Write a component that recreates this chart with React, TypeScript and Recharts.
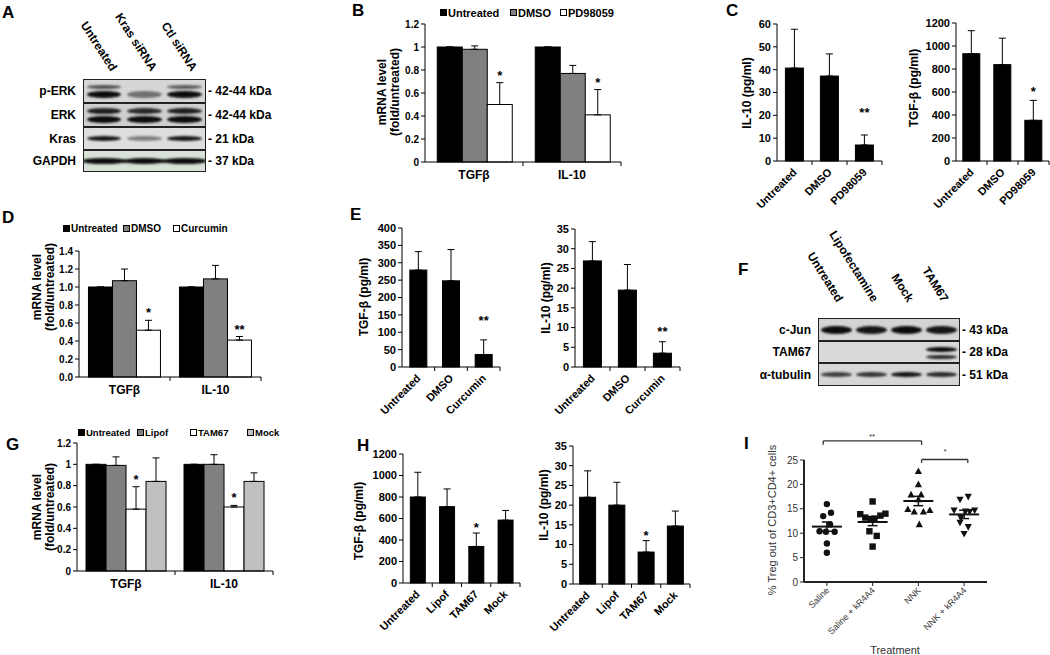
import React from "react";
import { BarChart, Bar, XAxis, YAxis, ErrorBar, ScatterChart, Scatter, ReferenceLine } from "recharts";

const FONT = '"Liberation Sans", Arial, Helvetica, sans-serif';

// ---------- data ----------
// B: mRNA, PD98059
const mrnaCats = ["TGFβ", "IL-10"];
const pdUntreated = [1, 1];
const pdDmso = [0.98, 0.77];
const pdDmsoErr = [0.03, 0.07];
const pdDrug = [0.5, 0.41];
const pdDrugErr = [0.19, 0.22];
const pdDrugSig = ["*", "*"];

// C: ELISA, PD98059
const pdCats = ["Untreated", "DMSO", "PD98059"];
const cIl10 = [40.7, 37.2, 7.0];
const cIl10Err = [17, 9.7, 4.4];
const cIl10Sig = ["", "", "**"];
const cTgf = [933, 838, 354];
const cTgfErr = [200, 230, 173];
const cTgfSig = ["", "", "*"];

// D: mRNA, curcumin
const curUntreated = [1, 1];
const curDmso = [1.07, 1.09];
const curDmsoErr = [0.13, 0.15];
const curDrug = [0.52, 0.41];
const curDrugErr = [0.11, 0.04];
const curDrugSig = ["*", "**"];

// E: ELISA, curcumin
const curCats = ["Untreated", "DMSO", "Curcumin"];
const eTgf = [279, 248, 36];
const eTgfErr = [53, 90, 42];
const eIl10 = [26.9, 19.5, 3.5];
const eIl10Err = [4.9, 6.5, 2.9];
const eSig = ["", "", "**"];

// G: mRNA, TAM67
const tamUntreated = [1, 1];
const tamLipof = [0.99, 1.0];
const tamLipofErr = [0.08, 0.09];
const tamDrug = [0.58, 0.6];
const tamDrugErr = [0.21, 0.015];
const tamDrugSig = ["*", "*"];
const tamMock = [0.84, 0.84];
const tamMockErr = [0.22, 0.08];

// H: ELISA, TAM67
const tamCats = ["Untreated", "Lipof", "TAM67", "Mock"];
const hTgf = [800, 710, 340, 585];
const hTgfErr = [230, 165, 125, 90];
const hIl10 = [22, 20, 8.1, 14.7];
const hIl10Err = [6.7, 5.8, 2.9, 3.8];
const hSig = ["", "", "*", ""];

// I: Treg dot plot
const treatGroups = ["Saline", "Saline + kR4A4", "NNK", "NNK + kR4A4"];
const salinePts = [15.96, 14.2, 13.5, 11.8, 10.4, 10.3, 10.3, 7.9, 6.0];
const salineJit = [0, 0.09, -0.08, 0.07, -0.16, -0.02, 0.17, 0, 0];
const salineKPts = [16.5, 13.9, 14.0, 13.2, 13.0, 12.9, 13.6, 10.4, 9.45, 7.26];
const salineKJit = [0, -0.27, 0.28, -0.16, 0.04, -0.04, 0.17, -0.07, 0.09, 0];
const nnkPts = [22.7, 20.0, 17.9, 17.9, 16.9, 14.9, 14.4, 14.4, 14.7, 11.8];
const nnkJit = [0, 0, -0.16, 0.06, 0, -0.23, -0.09, 0.11, 0.25, 0.02];
const nnkKPts = [17.5, 16.9, 14.7, 14.5, 14.7, 14.4, 13.2, 12.2, 11.3, 9.9];
const nnkKJit = [0.09, -0.09, -0.22, 0.03, 0.23, 0.12, -0.07, -0.09, 0.09, 0];
const groupMeans = [11.35, 12.3, 16.6, 13.85];
const groupSem = [0.95, 0.75, 0.96, 0.85];

const ticks12 = [0, 0.2, 0.4, 0.6, 0.8, 1, 1.2];
const ticks14 = [0, 0.2, 0.4, 0.6, 0.8, 1.0, 1.2, 1.4];
const ticks60 = [0, 10, 20, 30, 40, 50, 60];
const ticks1200 = [0, 200, 400, 600, 800, 1000, 1200];
const ticks400 = [0, 50, 100, 150, 200, 250, 300, 350, 400];
const ticks35 = [0, 5, 10, 15, 20, 25, 30, 35];
const ticks25 = [0, 5, 10, 15, 20, 25];

// western blots
type Band = { pos: number; h: number; lanes: number[]; wide?: number };
type BlotRow = { label: string; kda: string; h: number; bg: string; bands: Band[] };

const aLanes = ["Untreated", "Kras siRNA", "Ctl siRNA"];
const aRows: BlotRow[] = [
  { label: "p-ERK", kda: "- 42-44 kDa", h: 22, bg: "#d6d6d6", bands: [{ pos: 0.3, h: 4, lanes: [0.65, 0, 0.6] }, { pos: 0.66, h: 7, lanes: [1, 0.5, 1] }] },
  { label: "ERK", kda: "- 42-44 kDa", h: 22, bg: "#cfcfcf", bands: [{ pos: 0.32, h: 6, lanes: [0.9, 0.85, 0.9] }, { pos: 0.7, h: 7, lanes: [1, 1, 1] }] },
  { label: "Kras", kda: "- 21 kDa", h: 21, bg: "#dedede", bands: [{ pos: 0.5, h: 5, lanes: [0.95, 0.45, 0.95] }] },
  { label: "GAPDH", kda: "- 37 kDa", h: 20, bg: "#d8e2d8", bands: [{ pos: 0.5, h: 6, lanes: [1, 1, 1], wide: 1.1 }] },
];

const fLanes = ["Untreated", "Lipofectamine", "Mock", "TAM67"];
const fRows: BlotRow[] = [
  { label: "c-Jun", kda: "- 43 kDa", h: 21, bg: "#d4d4d4", bands: [{ pos: 0.5, h: 8, lanes: [1, 0.95, 1, 0.95] }] },
  { label: "TAM67", kda: "- 28 kDa", h: 20, bg: "#d9d9d9", bands: [{ pos: 0.38, h: 5, lanes: [0, 0, 0, 1] }, { pos: 0.76, h: 4, lanes: [0, 0, 0, 0.85] }] },
  { label: "α-tubulin", kda: "- 51 kDa", h: 21, bg: "#d6d6d6", bands: [{ pos: 0.5, h: 5, lanes: [0.75, 0.8, 0.95, 0.85] }] },
];

// ---------- helpers ----------
function T({ x, y, children, size = 11, weight = 700, anchor = "start", color = "#000" }: any) {
  const tx = anchor === "end" ? "-100%" : anchor === "middle" ? "-50%" : "0";
  return (
    <div style={{ position: "absolute", left: x, top: y, transform: `translate(${tx}, -50%)`, fontSize: size, fontWeight: weight, color, whiteSpace: "nowrap", lineHeight: 1 }}>
      {children}
    </div>
  );
}

function VT({ x, y, children, size = 12, weight = 700, color = "#000" }: any) {
  return (
    <div style={{ position: "absolute", left: x, top: y, transform: "translate(-50%, -50%) rotate(-90deg)", fontSize: size, fontWeight: weight, color, whiteSpace: "nowrap", lineHeight: 1.1, textAlign: "center" }}>
      {children}
    </div>
  );
}

function LaneLabel({ x, y, angle, children }: any) {
  return (
    <div style={{ position: "absolute", left: x, top: y, width: 0, height: 0 }}>
      <span style={{ position: "absolute", right: 0, bottom: 0, transformOrigin: "right bottom", transform: `rotate(${angle}deg)`, fontSize: 12, fontWeight: 700, whiteSpace: "nowrap", lineHeight: 1 }}>
        {children}
      </span>
    </div>
  );
}

function Blot({ x, y, w, lanes, rows, labelY, labelDx, angle }: { x: number; y: number; w: number; lanes: string[]; rows: BlotRow[]; labelY: number; labelDx: number; angle: number }) {
  const lw = w / lanes.length;
  const centers: number[] = [];
  let acc = y + 1;
  rows.forEach((r) => {
    centers.push(acc + r.h / 2);
    acc += r.h + 2;
  });
  return (
    <>
      {lanes.map((l, i) => (
        <LaneLabel key={l} x={x + lw * (i + 0.5) + labelDx} y={labelY} angle={angle}>
          {l}
        </LaneLabel>
      ))}
      <div style={{ position: "absolute", left: x, top: y, width: w, border: "1px solid #222", background: "#222" }}>
        {rows.map((r, ri) => (
          <div key={r.label} style={{ position: "relative", height: r.h, background: r.bg, marginTop: ri ? 2 : 0, overflow: "hidden" }}>
            {r.bands.map((b, bi) =>
              b.lanes.map((d, li) => {
                if (d <= 0) return null;
                const bw = lw * (b.wide ?? 0.86);
                return (
                  <div
                    key={`${bi}-${li}`}
                    style={{ position: "absolute", left: lw * li + (lw - bw) / 2, width: bw, top: r.h * b.pos - b.h / 2, height: b.h, background: `rgba(12,12,12,${d})`, borderRadius: "50%", filter: "blur(0.8px)" }}
                  />
                );
              })
            )}
          </div>
        ))}
      </div>
      {rows.map((r, i) => (
        <React.Fragment key={r.label}>
          <T x={x - 7} y={centers[i]} anchor="end" size={12}>{r.label}</T>
          <T x={x + w + 4} y={centers[i]} size={12}>{r.kda}</T>
        </React.Fragment>
      ))}
    </>
  );
}

// category tick: label (flat or slanted) plus Excel-style separator tick to the right of the band
function CatTick(props: any) {
  const { x, y, payload, band, slant, names, fsz = 12, fwt = 700, color = "#000", dx = 3, dy = 4 } = props;
  const label = names ? names[Math.round(payload.value) - 1] : payload.value;
  const axisY = y - 8;
  const ax = x + dx;
  const ay = y + dy;
  return (
    <g>
      {band ? <line x1={x + band / 2} x2={x + band / 2} y1={axisY} y2={axisY + 4} stroke="#000" /> : null}
      {slant ? (
        <text x={ax} y={ay} transform={`rotate(-45 ${ax} ${ay})`} textAnchor="end" fontSize={fsz} fontWeight={fwt} fill={color}>
          {label}
        </text>
      ) : (
        <text x={x} y={y} dy="0.71em" textAnchor="middle" fontSize={fsz} fontWeight={fwt} fill={color}>
          {label}
        </text>
      )}
    </g>
  );
}

const barShape = (key: string, starGap: number) => (p: any) => {
  const { x, y, width, height, fill, payload } = p;
  const v = payload[key];
  const e = payload[key + "Err"][1];
  const sig = payload[key + "Sig"];
  const top = v > 0 ? y - (e * height) / v : y;
  return (
    <g>
      <rect x={x} y={y} width={width} height={height} fill={fill} stroke="#000" strokeWidth={1} />
      {sig ? (
        <text x={x + width / 2} y={top - starGap + 7} textAnchor="middle" fontSize={13} fontWeight={700} fill="#000">
          {sig}
        </text>
      ) : null}
    </g>
  );
};

type Series = { key: string; fill: string; values: number[]; errs?: number[]; sig?: string[] };

function BarPanel(props: {
  x0: number; y0: number; x1: number; y1: number;
  cats: string[]; series: Series[]; domain: [number, number]; ticks: number[];
  fmt?: (v: number) => string; gap: string; slant?: boolean; tickFs?: number; starGap?: number;
}) {
  const { x0, y0, x1, y1, cats, series, domain, ticks, fmt, gap, slant, tickFs = 10, starGap = 10 } = props;
  const YW = 40, MT = 30, MR = 4, XH = slant ? 70 : 26;
  const band = (x1 - x0) / cats.length;
  const data = cats.map((c, i) => {
    const row: any = { cat: c };
    series.forEach((s) => {
      row[s.key] = s.values[i];
      row[s.key + "Err"] = [0, s.errs ? s.errs[i] : 0];
      row[s.key + "Sig"] = s.sig ? s.sig[i] : "";
    });
    return row;
  });
  return (
    <div style={{ position: "absolute", left: x0 - YW, top: y0 - MT }}>
      <BarChart width={x1 - x0 + YW + MR} height={y1 - y0 + MT + XH} data={data} margin={{ top: MT, right: MR, left: 0, bottom: 0 }} barCategoryGap={gap} barGap={0}>
        <XAxis
          dataKey="cat"
          axisLine={{ stroke: "#000" }}
          tickLine={false}
          tickSize={6}
          tickMargin={2}
          interval={0}
          height={XH}
          tick={<CatTick band={band} slant={slant} fsz={slant ? 11 : 12} />}
        />
        <YAxis
          type="number"
          domain={domain}
          ticks={ticks}
          interval={0}
          tickFormatter={fmt}
          width={YW}
          axisLine={{ stroke: "#000" }}
          tickLine={{ stroke: "#000" }}
          tickSize={4}
          tick={{ fontSize: tickFs, fontWeight: 700, fill: "#000" }}
        />
        {series.map((s) => (
          <Bar key={s.key} dataKey={s.key} fill={s.fill} isAnimationActive={false} shape={barShape(s.key, starGap)}>
            <ErrorBar dataKey={s.key + "Err"} width={3.5} stroke="#000" strokeWidth={1} direction="y" />
          </Bar>
        ))}
      </BarChart>
    </div>
  );
}

function Key({ y, size, items }: { y: number; size: number; items: { x: number; label: string; fill: string }[] }) {
  return (
    <>
      {items.map((it) => (
        <React.Fragment key={it.label}>
          <div style={{ position: "absolute", left: it.x, top: y - 4, width: 7, height: 7, background: it.fill, border: "1px solid #000", boxSizing: "border-box" }} />
          <T x={it.x + 8} y={y} size={size}>{it.label}</T>
        </React.Fragment>
      ))}
    </>
  );
}

const markers: Record<string, (p: any) => any> = {
  circle: ({ cx, cy }: any) => <circle cx={cx} cy={cy} r={3.2} fill="#111" />,
  square: ({ cx, cy }: any) => <rect x={cx - 3.2} y={cy - 3.2} width={6.4} height={6.4} fill="#111" />,
  up: ({ cx, cy }: any) => <path d={`M${cx},${cy - 3.8}L${cx + 3.6},${cy + 2.8}L${cx - 3.6},${cy + 2.8}Z`} fill="#111" />,
  down: ({ cx, cy }: any) => <path d={`M${cx},${cy + 3.8}L${cx + 3.6},${cy - 2.8}L${cx - 3.6},${cy - 2.8}Z`} fill="#111" />,
};

const MeanLine = ({ cx, cy }: any) => <line x1={cx - 15} x2={cx + 15} y1={cy} y2={cy} stroke="#111" strokeWidth={2} />;

function TregPanel() {
  const x0 = 804, y0 = 460, x1 = 987, y1 = 582;
  const YW = 30, MT = 30, MR = 6, XH = 60;
  const groups = [
    { pts: salinePts, jit: salineJit, kind: "circle" },
    { pts: salineKPts, jit: salineKJit, kind: "square" },
    { pts: nnkPts, jit: nnkJit, kind: "up" },
    { pts: nnkKPts, jit: nnkKJit, kind: "down" },
  ];
  const means = groupMeans.map((m, i) => ({ x: i + 1, y: m, sem: groupSem[i] }));
  const br = { stroke: "#333", strokeWidth: 1.3, ifOverflow: "visible" as const };
  return (
    <div style={{ position: "absolute", left: x0 - YW, top: y0 - MT }}>
      <ScatterChart width={x1 - x0 + YW + MR} height={y1 - y0 + MT + XH} margin={{ top: MT, right: MR, left: 0, bottom: 0 }}>
        <XAxis
          type="number"
          dataKey="x"
          domain={[0.5, 4.5]}
          ticks={[1, 2, 3, 4]}
          interval={0}
          height={XH}
          axisLine={{ stroke: "#222", strokeWidth: 2 }}
          tickLine={{ stroke: "#222" }}
          tickSize={4}
          tick={<CatTick names={treatGroups} slant fsz={9} fwt={400} color="#333" dy={3} />}
        />
        <YAxis
          type="number"
          dataKey="y"
          domain={[0, 25]}
          ticks={ticks25}
          interval={0}
          allowDataOverflow
          width={YW}
          axisLine={{ stroke: "#222", strokeWidth: 2 }}
          tickLine={{ stroke: "#222" }}
          tickSize={4}
          tick={{ fontSize: 10, fill: "#333" }}
        />
        {groups.map((g, gi) => (
          <Scatter
            key={treatGroups[gi]}
            data={g.pts.map((v, j) => ({ x: gi + 1 + g.jit[j], y: v }))}
            shape={markers[g.kind]}
            isAnimationActive={false}
          />
        ))}
        <Scatter data={means} shape={MeanLine} isAnimationActive={false}>
          <ErrorBar dataKey="sem" direction="y" width={5} stroke="#111" strokeWidth={1.5} />
        </Scatter>
        <ReferenceLine segment={[{ x: 0.92, y: 28.9 }, { x: 3.07, y: 28.9 }]} {...br} />
        <ReferenceLine segment={[{ x: 0.92, y: 28.9 }, { x: 0.92, y: 28.1 }]} {...br} />
        <ReferenceLine segment={[{ x: 3.07, y: 28.9 }, { x: 3.07, y: 28.1 }]} {...br} />
        <ReferenceLine segment={[{ x: 3.07, y: 25.1 }, { x: 4.08, y: 25.1 }]} {...br} />
        <ReferenceLine segment={[{ x: 3.07, y: 25.1 }, { x: 3.07, y: 24.4 }]} {...br} />
        <ReferenceLine segment={[{ x: 4.08, y: 25.1 }, { x: 4.08, y: 24.4 }]} {...br} />
      </ScatterChart>
    </div>
  );
}

const fmtPlain = (v: number) => String(v);
const fmtOne = (v: number) => v.toFixed(1);

export default function App() {
  return (
    <div style={{ position: "absolute", left: 0, top: 0, width: 1050, height: 655, background: "#fff", overflow: "hidden", fontFamily: FONT, color: "#000" }}>
      {/* panel letters */}
      <T x={2} y={12} size={17}>A</T>
      <T x={352} y={10} size={17}>B</T>
      <T x={726} y={10} size={17}>C</T>
      <T x={2} y={217} size={17}>D</T>
      <T x={350} y={214} size={17}>E</T>
      <T x={738} y={269} size={17}>F</T>
      <T x={6} y={444} size={17}>G</T>
      <T x={357} y={445} size={17}>H</T>
      <T x={744} y={443} size={17}>I</T>

      {/* A */}
      <Blot x={83} y={79} w={121} lanes={aLanes} rows={aRows} labelY={73} labelDx={6} angle={57} />

      {/* B */}
      <Key y={13} size={11} items={[{ x: 440, label: "Untreated", fill: "#000" }, { x: 510, label: "DMSO", fill: "#808080" }, { x: 560, label: "PD98059", fill: "#fff" }]} />
      <VT x={389} y={92}>mRNA level<br />(fold/untreated)</VT>
      <BarPanel
        x0={425} y0={24} x1={621} y1={162} cats={mrnaCats} domain={[0, 1.2]} ticks={ticks12} fmt={fmtPlain} gap="12.5%"
        series={[
          { key: "untreated", fill: "#000", values: pdUntreated },
          { key: "dmso", fill: "#808080", values: pdDmso, errs: pdDmsoErr },
          { key: "drug", fill: "#fff", values: pdDrug, errs: pdDrugErr, sig: pdDrugSig },
        ]}
      />

      {/* C */}
      <VT x={748} y={93}>IL-10 (pg/ml)</VT>
      <BarPanel x0={777} y0={24} x1={882} y1={161} cats={pdCats} domain={[0, 60]} ticks={ticks60} gap="24%" slant tickFs={11} starGap={25}
        series={[{ key: "v", fill: "#000", values: cIl10, errs: cIl10Err, sig: cIl10Sig }]} />
      <VT x={915} y={88}>TGF-β (pg/ml)</VT>
      <BarPanel x0={956} y0={23} x1={1049} y1={161} cats={pdCats} domain={[0, 1200]} ticks={ticks1200} gap="22%" slant tickFs={11} starGap={11}
        series={[{ key: "v", fill: "#000", values: cTgf, errs: cTgfErr, sig: cTgfSig }]} />

      {/* D */}
      <Key y={229} size={10} items={[{ x: 63, label: "Untreated", fill: "#000" }, { x: 123, label: "DMSO", fill: "#808080" }, { x: 173, label: "Curcumin", fill: "#fff" }]} />
      <VT x={44} y={287}>mRNA level<br />(fold/untreated)</VT>
      <BarPanel
        x0={79} y0={251} x1={261} y1={377} cats={mrnaCats} domain={[0, 1.4]} ticks={ticks14} fmt={fmtOne} gap="10.4%"
        series={[
          { key: "untreated", fill: "#000", values: curUntreated },
          { key: "dmso", fill: "#808080", values: curDmso, errs: curDmsoErr },
          { key: "drug", fill: "#fff", values: curDrug, errs: curDrugErr, sig: curDrugSig },
        ]}
      />

      {/* E */}
      <VT x={365} y={297}>TGF-β (pg/ml)</VT>
      <BarPanel x0={402} y0={228} x1={500} y1={367} cats={curCats} domain={[0, 400]} ticks={ticks400} gap="24%" slant tickFs={11} starGap={22}
        series={[{ key: "v", fill: "#000", values: eTgf, errs: eTgfErr, sig: eSig }]} />
      <VT x={547} y={298}>IL-10 (pg/ml)</VT>
      <BarPanel x0={575} y0={229} x1={680} y1={367} cats={curCats} domain={[0, 35]} ticks={ticks35} gap="24%" slant tickFs={11} starGap={13}
        series={[{ key: "v", fill: "#000", values: eIl10, errs: eIl10Err, sig: eSig }]} />

      {/* F */}
      <Blot x={818} y={318} w={140} lanes={fLanes} rows={fRows} labelY={304} labelDx={0} angle={58} />

      {/* G */}
      <Key y={433} size={9.5} items={[{ x: 78, label: "Untreated", fill: "#000" }, { x: 137, label: "Lipof", fill: "#808080" }, { x: 190, label: "TAM67", fill: "#fff" }, { x: 247, label: "Mock", fill: "#c0c0c0" }]} />
      <VT x={44} y={507}>mRNA level<br />(fold/untreated)</VT>
      <BarPanel
        x0={77} y0={443} x1={273} y1={571} cats={mrnaCats} domain={[0, 1.2]} ticks={ticks12} fmt={fmtPlain} gap="9.2%"
        series={[
          { key: "untreated", fill: "#000", values: tamUntreated },
          { key: "lipof", fill: "#808080", values: tamLipof, errs: tamLipofErr },
          { key: "tam", fill: "#fff", values: tamDrug, errs: tamDrugErr, sig: tamDrugSig },
          { key: "mock", fill: "#c0c0c0", values: tamMock, errs: tamMockErr },
        ]}
      />

      {/* H */}
      <VT x={360} y={521}>TGF-β (pg/ml)</VT>
      <BarPanel x0={403} y0={454} x1={520} y1={583} cats={tamCats} domain={[0, 1200]} ticks={ticks1200} gap="25%" slant tickFs={11} starGap={8}
        series={[{ key: "v", fill: "#000", values: hTgf, errs: hTgfErr, sig: hSig }]} />
      <VT x={545} y={505}>IL-10 (pg/ml)</VT>
      <BarPanel x0={573} y0={446} x1={690} y1={584} cats={tamCats} domain={[0, 35]} ticks={ticks35} gap="22.6%" slant tickFs={11} starGap={8}
        series={[{ key: "v", fill: "#000", values: hIl10, errs: hIl10Err, sig: hSig }]} />

      {/* I */}
      <VT x={772} y={520} size={11} weight={400} color="#333">% Treg out of CD3+CD4+ cells</VT>
      <TregPanel />
      <T x={872} y={437} size={8} weight={400} anchor="middle" color="#333">**</T>
      <T x={945} y={452} size={8} weight={400} anchor="middle" color="#333">*</T>
      <T x={895} y={650} size={11} weight={400} anchor="middle" color="#333">Treatment</T>
    </div>
  );
}
